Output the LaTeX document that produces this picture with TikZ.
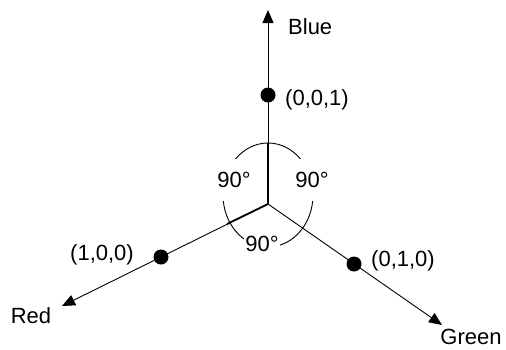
\documentclass[tikz,border=0pt]{standalone}
\usepackage{fontspec}
\setmainfont{Liberation Sans}
\usetikzlibrary{arrows.meta}

\begin{document}
\begin{tikzpicture}[
    x=1pt, y=-1pt,
    axis/.style={
      -{Triangle[length=13pt,width=11pt]},
      line width=0.9pt,
      draw=black,
    },
    innerpart/.style={line width=1.8pt, draw=black},
    dot/.style={circle, fill=black, inner sep=0pt, minimum size=15pt},
    lbl/.style={font=\fontsize{22}{26}\selectfont, inner sep=0pt},
    angle/.style={lbl, fill=white, inner xsep=1pt},
  ]
    \useasboundingbox (0,0) rectangle (506,349);
    \coordinate (origin) at (268,204);
    \coordinate (bluetip) at (268,10);
    \coordinate (redtip) at (62,306);
    \coordinate (greentip) at (442,325);
    \coordinate (bluecut) at (268,143);
    \coordinate (redcut) at (227,224);
    % arcs round the origin, broken by the angle labels
    \draw[line width=0.9pt] (268,195) ellipse [x radius=45, y radius=52];
    \node[angle, minimum height=42pt] (leftangle) at (234,180) {90°};
    \node[angle, minimum height=42pt] (rightangle) at (312,180) {90°};
    \node[angle] (bottomangle) at (262,244) {90°};
    \draw[axis] (origin) -- (bluetip);
    \draw[axis] (origin) -- (redtip);
    \draw[axis] (origin) -- (greentip);
    \draw[innerpart] (origin) -- (bluecut);
    \draw[innerpart] (origin) -- (redcut);
    \node[dot] (bluedot) at (268,95) {};
    \node[dot] (reddot) at (161,257) {};
    \node[dot] (greendot) at (354,264) {};
    \node[lbl, anchor=west] (bluelbl) at (288,27) {Blue};
    \node[lbl, anchor=west] (bluepos) at (285,100) {(0,0,1)};
    \node[lbl] (redpos) at (102,255) {(1,0,0)};
    \node[lbl] (redlbl) at (31,316) {Red};
    \node[lbl] (greenpos) at (403,261) {(0,1,0)};
    \node[lbl] (greenlbl) at (471,337) {Green};
\end{tikzpicture}
\end{document}
